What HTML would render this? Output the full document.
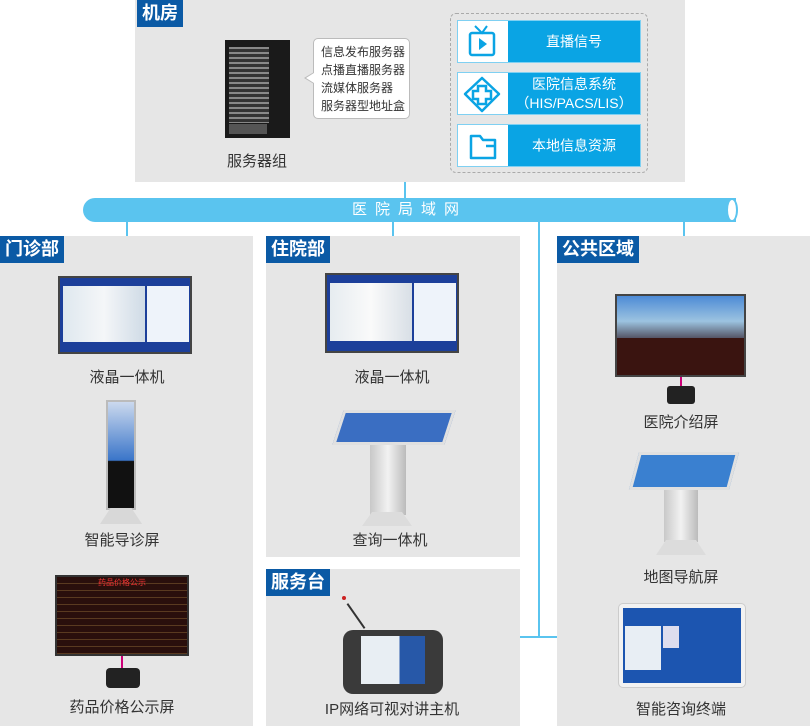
<!DOCTYPE html>
<html><head><meta charset="utf-8"><style>
*{margin:0;padding:0;box-sizing:border-box}
body{width:810px;height:726px;background:#fff;position:relative;overflow:hidden;font-family:"Liberation Sans","Noto Sans CJK SC",sans-serif}
.a{position:absolute}
.panel{position:absolute;background:#e6e6e6}
.tag{position:absolute;background:#0b5aa5;color:#fff;font-weight:bold;font-size:18px;line-height:27px;padding:0 5px;height:27px}
.lbl{position:absolute;font-size:15px;color:#333;text-align:center;width:200px;margin-left:-100px}
.ln{position:absolute;background:#5ac4ef}
.btn{position:absolute;left:457px;width:184px;background:#0aa4e4;border:1px solid #7fd0f2;color:#fff;font-size:14px;text-align:center}
.btn .ic{position:absolute;left:0;top:0;bottom:0;width:50px;background:#fff}
.btn .t{position:absolute;left:50px;right:0;top:50%;transform:translateY(-50%);line-height:19px}
.scr{position:absolute;background:#222;border:2px solid #444}
</style></head><body>
<div class="panel" style="left:135px;top:0;width:550px;height:182px"></div>
<div class="tag" style="left:137px;top:0">机房</div>
<div class="a" style="left:225px;top:40px;width:65px;height:98px;background:#1a1a1a"></div>
<div class="a" style="left:229px;top:47px;width:40px;height:76px;background:repeating-linear-gradient(#888 0 2px,#333 2px 5px)"></div>
<div class="a" style="left:229px;top:124px;width:38px;height:10px;background:#555"></div>
<div class="lbl" style="left:257px;top:150px">服务器组</div>
<div class="a" style="left:313px;top:38px;width:97px;height:81px;background:#fff;border:1px solid #bbb;border-radius:5px;font-size:12px;line-height:18px;color:#333;padding:4px 0 0 7px;white-space:nowrap">信息发布服务器<br>点播直播服务器<br>流媒体服务器<br>服务器型地址盒</div>
<div class="a" style="left:304px;top:72px;width:0;height:0;border-top:6px solid transparent;border-bottom:6px solid transparent;border-right:10px solid #bbb"></div>
<div class="a" style="left:306px;top:73px;width:0;height:0;border-top:5px solid transparent;border-bottom:5px solid transparent;border-right:8px solid #fff"></div>
<div class="a" style="left:450px;top:13px;width:198px;height:160px;border:1.5px dashed #aaa;border-radius:6px"></div>
<div class="btn" style="top:20px;height:43px"><div class="ic"><svg width="50" height="43"><rect x="12" y="12" width="24" height="22" rx="2" fill="none" stroke="#0aa4e4" stroke-width="2.5"/><path d="M17 5l7 7 5-7" fill="none" stroke="#0aa4e4" stroke-width="2"/><path d="M21 17v12l8-6z" fill="#0aa4e4"/></svg></div><div class="t">直播信号</div></div>
<div class="btn" style="top:72px;height:43px"><div class="ic"><svg width="50" height="43"><path d="M24 5l17 16-17 17-17-17z" fill="none" stroke="#0aa4e4" stroke-width="2.5" stroke-linejoin="round"/><path d="M20 13h8v5h5v8h-5v5h-8v-5h-5v-8h5z" fill="none" stroke="#0aa4e4" stroke-width="2.5"/></svg></div><div class="t">医院信息系统<br>（HIS/PACS/LIS）</div></div>
<div class="btn" style="top:124px;height:43px"><div class="ic"><svg width="50" height="43"><path d="M13 11h9l3 4h12v18h-24z" fill="none" stroke="#0aa4e4" stroke-width="2.5" stroke-linejoin="round"/><path d="M28 21h9" stroke="#0aa4e4" stroke-width="2.5"/></svg></div><div class="t">本地信息资源</div></div>
<div class="ln" style="left:404px;top:182px;width:2px;height:18px"></div>
<div class="a" style="left:83px;top:198px;width:653px;height:24px;background:#5ac4ef;border-radius:12px 0 0 12px;color:#fff;text-align:center;font-size:15px;line-height:24px;letter-spacing:8px">医院局域网</div>
<div class="a" style="left:726px;top:198px;width:12px;height:24px;background:#fff;border:2px solid #5ac4ef;border-radius:50%"></div>
<div class="ln" style="left:126px;top:222px;width:2px;height:14px"></div>
<div class="ln" style="left:392px;top:222px;width:2px;height:14px"></div>
<div class="ln" style="left:683px;top:222px;width:2px;height:14px"></div>
<div class="ln" style="left:538px;top:222px;width:2px;height:416px"></div>
<div class="ln" style="left:520px;top:636px;width:37px;height:2px"></div>
<div class="panel" style="left:0;top:236px;width:253px;height:490px"></div>
<div class="tag" style="left:0;top:236px">门诊部</div>
<div class="panel" style="left:266px;top:236px;width:254px;height:321px"></div>
<div class="tag" style="left:266px;top:236px">住院部</div>
<div class="panel" style="left:266px;top:569px;width:254px;height:157px"></div>
<div class="tag" style="left:266px;top:569px">服务台</div>
<div class="panel" style="left:557px;top:236px;width:253px;height:490px"></div>
<div class="tag" style="left:557px;top:236px">公共区域</div>
<div class="scr" style="left:58px;top:276px;width:134px;height:78px;background:#1c3f9a"><div class="a" style="left:3px;top:8px;width:82px;height:56px;background:linear-gradient(90deg,#dfe8ef,#f4f6f8,#cfdbe6)"></div><div class="a" style="left:87px;top:8px;width:42px;height:56px;background:#eef3fa"></div></div>
<div class="lbl" style="left:127px;top:366px">液晶一体机</div>
<div class="a" style="left:106px;top:400px;width:30px;height:110px;background:linear-gradient(#cbd9ee,#3a75c9 55%,#111 56%);border:2px solid #bbb"></div>
<div class="a" style="left:100px;top:508px;width:42px;height:16px;background:#d8d8d8;clip-path:polygon(25% 0,75% 0,100% 100%,0 100%)"></div>
<div class="lbl" style="left:122px;top:529px">智能导诊屏</div>
<div class="a" style="left:55px;top:575px;width:134px;height:81px;background:#2a0f0c;border:2px solid #333;background-image:repeating-linear-gradient(#2a0f0c 0 6px,#5a3a20 6px 7px)"><div style="color:#e33;font-size:8px;text-align:center">药品价格公示</div></div>
<div class="a" style="left:121px;top:656px;width:2px;height:12px;background:#c07"></div>
<div class="a" style="left:106px;top:668px;width:34px;height:20px;background:#222;border-radius:4px"></div>
<div class="lbl" style="left:122px;top:696px">药品价格公示屏</div>
<div class="scr" style="left:325px;top:273px;width:134px;height:80px;background:#1c3f9a"><div class="a" style="left:3px;top:8px;width:82px;height:58px;background:linear-gradient(90deg,#e6ecf0,#fafafa,#d8dfe6)"></div><div class="a" style="left:87px;top:8px;width:42px;height:58px;background:#eef3fa"></div></div>
<div class="lbl" style="left:392px;top:366px">液晶一体机</div>
<div class="a" style="left:338px;top:410px;width:112px;height:35px;background:#3a6ec2;border:3px solid #e0e0e0;transform:skewX(-18deg)"></div>
<div class="a" style="left:370px;top:445px;width:36px;height:70px;background:linear-gradient(90deg,#c8c8c8,#f2f2f2,#bbb)"></div>
<div class="a" style="left:362px;top:512px;width:50px;height:14px;background:#dcdcdc;clip-path:polygon(20% 0,80% 0,100% 100%,0 100%)"></div>
<div class="lbl" style="left:390px;top:529px">查询一体机</div>
<div class="a" style="left:342px;top:596px;width:4px;height:4px;background:#c22;border-radius:50%"></div>
<div class="a" style="left:355px;top:601px;width:2px;height:30px;background:#333;transform:rotate(-35deg)"></div>
<div class="a" style="left:343px;top:630px;width:100px;height:64px;background:#3a3a3a;border-radius:10px"></div>
<div class="a" style="left:361px;top:636px;width:64px;height:48px;background:linear-gradient(90deg,#e8eef3 60%,#2758a8 60%)"></div>
<div class="lbl" style="left:392px;top:698px">IP网络可视对讲主机</div>
<div class="scr" style="left:615px;top:294px;width:131px;height:83px;background:#3a1410"><div class="a" style="left:0;top:0;width:127px;height:42px;background:linear-gradient(#4d8bd6,#9cc3e0 60%,#556)"></div></div>
<div class="a" style="left:680px;top:377px;width:2px;height:9px;background:#c07"></div>
<div class="a" style="left:667px;top:386px;width:28px;height:18px;background:#222;border-radius:3px"></div>
<div class="lbl" style="left:681px;top:411px">医院介绍屏</div>
<div class="a" style="left:634px;top:452px;width:100px;height:38px;background:#3a80d0;border:3px solid #e0e0e0;transform:skewX(-15deg)"></div>
<div class="a" style="left:664px;top:490px;width:34px;height:52px;background:linear-gradient(90deg,#c8c8c8,#f2f2f2,#bbb)"></div>
<div class="a" style="left:656px;top:540px;width:50px;height:15px;background:#dcdcdc;clip-path:polygon(20% 0,80% 0,100% 100%,0 100%)"></div>
<div class="lbl" style="left:681px;top:566px">地图导航屏</div>
<div class="a" style="left:618px;top:603px;width:128px;height:85px;background:#f2f2f2;border-radius:5px;border:1px solid #ccc"><div class="a" style="left:4px;top:4px;width:118px;height:75px;background:#1c55b0"><div class="a" style="left:2px;top:18px;width:36px;height:44px;background:#e8eef4"></div><div class="a" style="left:40px;top:18px;width:16px;height:22px;background:#dde"></div></div></div>
<div class="lbl" style="left:681px;top:698px">智能咨询终端</div>
</body></html>
